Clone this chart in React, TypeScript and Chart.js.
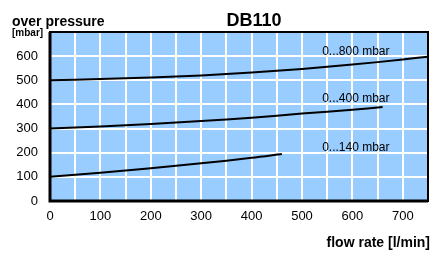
import React, { useEffect, useRef } from 'react';
import { Chart, registerables } from 'chart.js';
Chart.register(...registerables);

// Data (flow rate l/min -> over pressure mbar)
const flow800 = [0, 100, 200, 300, 400, 500, 600, 700, 750];
const pressure800 = [500, 505, 512, 520, 532, 547, 565, 586, 598];
const flow400 = [0, 100, 200, 300, 400, 500, 600, 660];
const pressure400 = [300, 309, 319, 331, 345, 362, 378, 389];
const flow140 = [0, 100, 200, 300, 400, 460];
const pressure140 = [100, 117, 136, 156, 179, 195];

const seriesLabels = ['0...800 mbar', '0...400 mbar', '0...140 mbar'];
const labelFlow = [540, 540, 540];
const labelPressure = [604, 410, 207];

const xMin = 0;
const xMax = 750;
const xStep = 50;
const xLabelStep = 100;
const yMin = 0;
const yMax = 700;
const yStep = 100;

const titleText = 'DB110';
const yTitle = 'over pressure';
const yUnit = '[mbar]';
const xTitle = 'flow rate [l/min]';

const FONT = '"Liberation Sans", Arial, sans-serif';

const toPts = (xs: number[], ys: number[]) => xs.map((x, i) => ({ x, y: ys[i] }));

export default function App() {
  const ref = useRef<HTMLCanvasElement | null>(null);
  useEffect(() => {
    document.body.style.margin = '0';
    if (!ref.current) return;

    const decor = {
      id: 'decor',
      beforeDraw(chart: any) {
        const { ctx, chartArea: a } = chart;
        ctx.save();
        ctx.fillStyle = '#99CCFF';
        ctx.fillRect(a.left, a.top, a.right - a.left, a.bottom - a.top);
        ctx.restore();
      },
      afterDatasetsDraw(chart: any) {
        const { ctx, chartArea: a, scales } = chart;
        ctx.save();
        // frame
        ctx.strokeStyle = '#000';
        ctx.lineWidth = 2;
        ctx.strokeRect(a.left, a.top, a.right - a.left, a.bottom - a.top);
        ctx.lineWidth = 3;
        ctx.beginPath();
        ctx.moveTo(a.left, a.top);
        ctx.lineTo(a.left, a.bottom);
        ctx.lineTo(a.right, a.bottom);
        ctx.stroke();
        // series labels
        ctx.fillStyle = '#000';
        ctx.font = `12px ${FONT}`;
        ctx.textAlign = 'left';
        ctx.textBaseline = 'alphabetic';
        seriesLabels.forEach((t, i) => {
          ctx.fillText(t, scales.x.getPixelForValue(labelFlow[i]), scales.y.getPixelForValue(labelPressure[i]));
        });
        // titles
        ctx.font = `bold 18px ${FONT}`;
        ctx.textAlign = 'center';
        ctx.fillText(titleText, 254, 26);
        ctx.font = `bold 14px ${FONT}`;
        ctx.textAlign = 'left';
        ctx.fillText(yTitle, 12, 26);
        ctx.font = `bold 10px ${FONT}`;
        ctx.fillText(yUnit, 12, 36);
        ctx.font = `bold 14px ${FONT}`;
        ctx.textAlign = 'right';
        ctx.fillText(xTitle, 430, 247);
        ctx.restore();
      },
    };

    const lineDs = (xs: number[], ys: number[]) => ({
      data: toPts(xs, ys),
      borderColor: '#000',
      borderWidth: 2,
      pointRadius: 0,
      fill: false,
      tension: 0.3,
    });

    const chart = new Chart(ref.current, {
      type: 'line',
      data: {
        datasets: [
          lineDs(flow800, pressure800),
          lineDs(flow400, pressure400),
          lineDs(flow140, pressure140),
        ],
      },
      options: {
        animation: false,
        responsive: false,
        devicePixelRatio: 1,
        layout: { padding: { top: 32, right: 10, left: 0, bottom: 0 } },
        plugins: { legend: { display: false }, tooltip: { enabled: false } },
        scales: {
          x: {
            type: 'linear',
            min: xMin,
            max: xMax,
            afterFit: (s: any) => { s.height = 59; },
            grid: { color: '#fff', lineWidth: 2, drawTicks: false },
            border: { display: false },
            ticks: {
              stepSize: xStep,
              autoSkip: false,
              maxRotation: 0,
              padding: 8,
              color: '#000',
              font: { family: FONT, size: 13 },
              callback: (v: any) => (Number(v) % xLabelStep === 0 ? String(v) : ''),
            },
          },
          y: {
            type: 'linear',
            min: yMin,
            max: yMax,
            afterFit: (s: any) => { s.width = 50; },
            grid: { color: '#fff', lineWidth: 2, drawTicks: false },
            border: { display: false },
            ticks: {
              stepSize: yStep,
              padding: 12,
              color: '#000',
              font: { family: FONT, size: 13 },
              callback: (v: any) => (Number(v) === yMax ? '' : String(v)),
            },
          },
        },
      },
      plugins: [decor],
    } as any);
    return () => chart.destroy();
  }, []);

  return <canvas ref={ref} width={438} height={260} style={{ display: 'block' }} />;
}
